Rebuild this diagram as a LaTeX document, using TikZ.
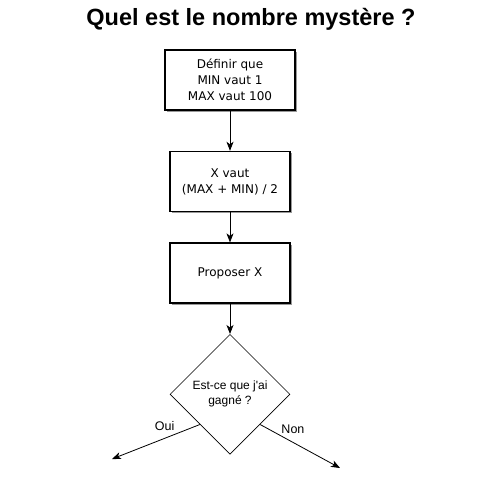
\documentclass[tikz,border=0pt]{standalone}
\usepackage{fontspec}
\newfontfamily\helv{Liberation Sans}
\newfontfamily\verd{DejaVu Sans}
\usepackage{tikz}
\usetikzlibrary{positioning}
\usetikzlibrary{shapes.geometric}
\usetikzlibrary{shadows}
\usetikzlibrary{arrows.meta}

\begin{document}
\begin{tikzpicture}[x=1pt,y=-1pt]
    \tikzstyle{etape}=[draw=black,line width=1.6pt,fill=white,minimum height=60pt,align=center,
      font=\verd\fontsize{12}{16}\selectfont,
      drop shadow={shadow xshift=1.6pt,shadow yshift=-1.6pt,fill=black!40,opacity=1}]
    \tikzstyle{fleche}=[-{Stealth[length=9pt,width=7pt,inset=2.5pt]},line width=0.8pt]
    \tikzstyle{choix}=[font=\helv\fontsize{12.5}{14}\selectfont,inner sep=1pt]

    \useasboundingbox (0,0) rectangle (501,485);

    \node[font=\helv\bfseries\fontsize{23.5}{26}\selectfont] (titre) at (251,19) {Quel est le nombre mystère ?};

    \node[etape,minimum width=130pt] (init) at (230,80) {Définir que\\MIN vaut 1\\MAX vaut 100};
    \node[etape,minimum width=120pt,below=40pt of init] (milieu) {X vaut\\(MAX + MIN) / 2};
    \node[etape,minimum width=120pt,below=30pt of milieu] (proposer) {Proposer X};

    \node[diamond,draw=black,line width=0.7pt,minimum width=120pt,minimum height=120pt,inner sep=0pt,
          align=center,font=\helv\fontsize{12}{15}\selectfont,below=30pt of proposer] (gagne) {Est-ce que j'ai\\gagné ?};

    \coordinate (oui) at (112,459);
    \coordinate (non) at (340,468);

    \draw[fleche] (init) -- (milieu);
    \draw[fleche] (milieu) -- (proposer);
    \draw[fleche] (proposer) -- (gagne);
    \draw[fleche] (gagne.south west) -- node[choix,pos=0.4,above,yshift=6pt] (labeloui) {Oui} (oui);
    \draw[fleche] (gagne.south east) -- node[choix,pos=0.45,above right,xshift=-16pt,yshift=9pt] (labelnon) {Non} (non);

\end{tikzpicture}
\end{document}
